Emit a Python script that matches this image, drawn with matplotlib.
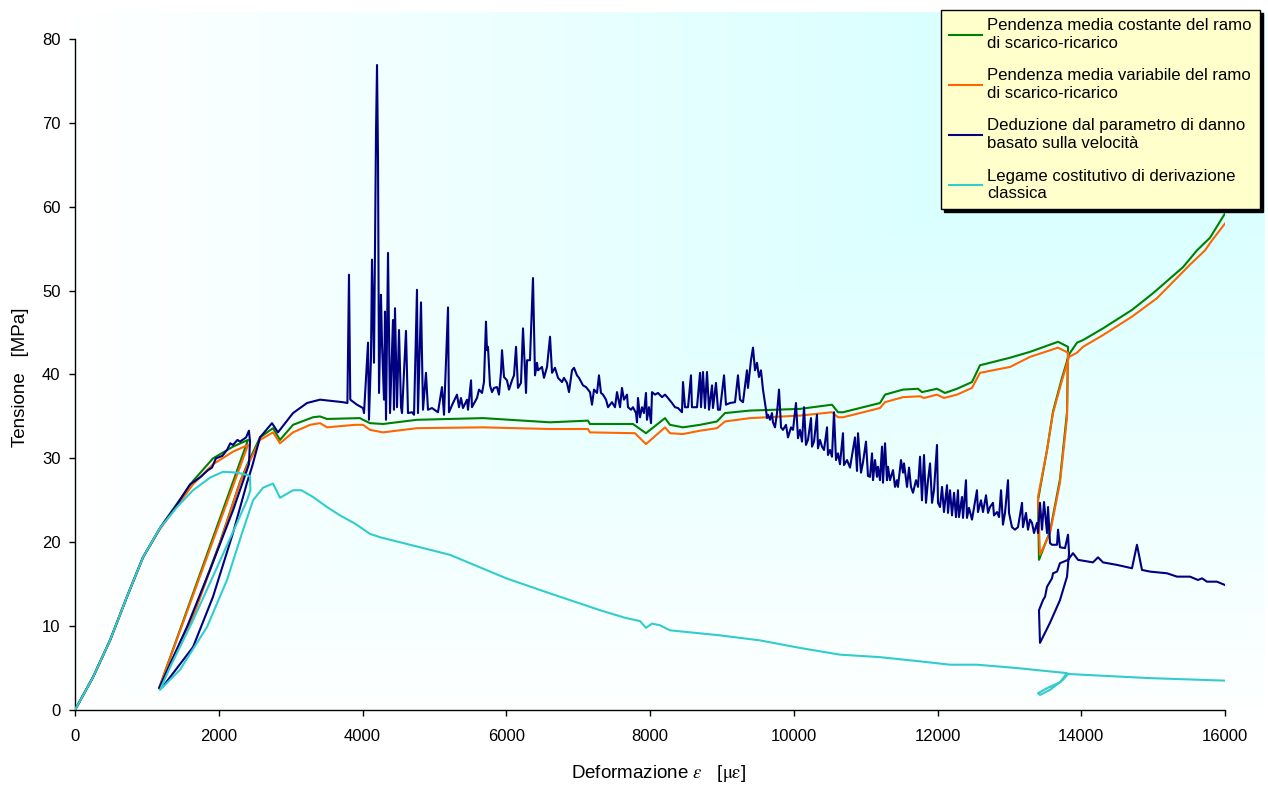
import numpy as np
import matplotlib.pyplot as plt

# Tensione-deformazione: quattro legami costitutivi a confronto

# curva verde - pendenza media costante del ramo di scarico-ricarico
green_x = [0, 250, 487, 723, 946, 1183, 1419, 1642, 1920, 2198, 2407,
           1170, 1642, 2017, 2296, 2393, 2574, 2755, 2852, 3033, 3311, 3409, 3506,
           3965, 4007, 4104, 4285, 4758, 5677, 6609, 7137, 7165, 7763, 7944, 8209,
           8278, 8459, 8696, 8932, 9043, 9391, 10087, 10532, 10616, 10685, 11200,
           11270, 11520, 11729, 11784, 11993, 12104, 12271, 12480, 12591, 13009,
           13287, 13677, 13816, 13802, 13704, 13565, 13412, 13398, 13524, 13607,
           13732, 13830, 13941, 14024, 14303, 14706, 15000, 15416, 15610, 15791, 16000]
green_y = [0, 3.9, 8.3, 13.5, 18.2, 21.7, 24.6, 27.3, 30.0, 31.4, 32.2,
           2.6, 11.3, 20.0, 27.2, 29.2, 32.5, 33.6, 32.2, 34.0, 34.9, 35.0, 34.7,
           34.8, 34.6, 34.2, 34.1, 34.6, 34.8, 34.3, 34.5, 34.1, 34.1, 33.0, 34.8,
           34.0, 33.7, 34.0, 34.4, 35.4, 35.7, 35.9, 36.4, 35.5, 35.5, 36.6,
           37.6, 38.2, 38.3, 37.9, 38.3, 37.8, 38.3, 39.1, 41.1, 42.0,
           42.7, 43.9, 43.3, 35.5, 27.5, 21.3, 17.9, 25.0, 31.0, 35.6,
           39.6, 42.4, 43.8, 44.1, 45.5, 47.7, 49.7, 52.8, 54.8, 56.3, 59.2]

# curva arancio - pendenza media variabile
orange_x = [0, 250, 487, 723, 946, 1183, 1419, 1642, 1920, 2198, 2407,
            1170, 1642, 2017, 2296, 2393, 2574, 2755, 2852, 3033, 3270, 3409, 3506,
            3896, 4007, 4104, 4285, 4758, 5677, 6609, 7137, 7165, 7791, 7944, 8209,
            8278, 8459, 8696, 8932, 9043, 9391, 10087, 10532, 10616, 10685, 11200,
            11270, 11520, 11757, 11812, 11993, 12090, 12271, 12480, 12591, 13009,
            13287, 13677, 13816, 13802, 13704, 13565, 13426, 13398, 13524, 13607,
            13732, 13830, 13941, 14024, 14303, 14706, 15054, 15513, 15722, 15820, 16000]
orange_y = [0, 3.9, 8.3, 13.5, 18.2, 21.6, 24.3, 26.9, 29.3, 30.8, 31.6,
            2.6, 11.1, 19.9, 27.1, 29.0, 32.2, 33.1, 31.8, 33.1, 34.0, 34.2, 33.7,
            34.0, 34.0, 33.4, 33.1, 33.6, 33.7, 33.5, 33.5, 33.1, 33.0, 31.7, 33.7,
            33.0, 32.9, 33.3, 33.6, 34.4, 34.8, 35.1, 35.5, 34.9, 34.9, 36.0,
            36.7, 37.3, 37.4, 37.2, 37.6, 37.2, 37.6, 38.4, 40.2, 40.9,
            42.1, 43.2, 42.6, 34.9, 27.1, 21.1, 18.5, 25.4, 31.0, 35.4,
            39.3, 42.1, 42.6, 43.3, 44.7, 46.9, 49.1, 53.1, 54.8, 56.0, 58.0]

# curva blu - parametro di danno basato sulla velocita' (letta a tratti)
blue_start = [(0, 0), (250, 3.9), (487, 8.3), (723, 13.5), (946, 18.2), (1183, 21.7),
              (1419, 24.5), (1600, 26.9), (1750, 27.8), (1850, 28.6), (1906, 28.9),
              (1960, 30.0), (2050, 30.3), (2115, 31.0), (2160, 31.8), (2198, 31.6),
              (2260, 32.2), (2296, 32.0), (2380, 32.5), (2420, 33.3), (2435, 32.0),
              (2420, 29.3), (2198, 23.8), (1878, 16.7), (1558, 9.9), (1170, 2.6),
              (1224, 2.8), (1642, 7.5), (1920, 13.5), (2198, 21.1), (2393, 27.1),
              (2463, 29.0), (2574, 32.5), (2741, 34.2), (2824, 33.1), (3033, 35.4),
              (3228, 36.6), (3409, 37.0), (3729, 36.7), (3790, 36.6)]
blue_peaks = [(3812, 51.9), (3830, 37.0), (3923, 36.4), (4007, 36.0), (4021, 35.4),
              (4077, 43.8), (4090, 34.6), (4118, 42.0), (4132, 53.7), (4160, 41.4),
              (4188, 68.9), (4202, 76.9), (4216, 65.6), (4230, 37.8), (4257, 49.5),
              (4271, 43.8), (4299, 37.0), (4313, 47.5), (4327, 34.6), (4355, 54.5),
              (4383, 35.4), (4424, 46.5), (4438, 35.8), (4452, 47.9), (4480, 36.1),
              (4508, 45.3), (4536, 36.1), (4550, 35.4), (4605, 45.2), (4633, 35.4),
              (4689, 35.5), (4717, 35.2), (4758, 50.1), (4772, 35.4), (4814, 48.6),
              (4842, 35.8), (4883, 40.2), (4911, 35.8), (4967, 36.0), (5050, 35.5),
              (5106, 38.5), (5134, 35.2), (5190, 48.0), (5203, 35.5), (5259, 36.6),
              (5315, 37.6), (5343, 36.1), (5370, 37.2), (5398, 36.0), (5454, 37.0),
              (5468, 35.8), (5510, 39.3), (5523, 36.1), (5593, 37.2), (5621, 38.2),
              (5663, 37.8), (5690, 39.1), (5718, 46.3), (5732, 42.9), (5746, 43.3),
              (5774, 38.7), (5802, 37.9), (5830, 38.4), (5871, 38.5), (5899, 37.6),
              (5927, 40.3), (5941, 42.9), (5969, 39.7), (6010, 39.3), (6038, 38.2),
              (6080, 39.3), (6108, 39.9), (6136, 43.3), (6163, 38.4), (6205, 39.0),
              (6233, 45.5), (6275, 37.8), (6289, 41.7), (6330, 41.7), (6372, 51.5),
              (6400, 39.9), (6428, 41.4), (6442, 40.5), (6497, 40.9), (6525, 39.6),
              (6567, 40.9), (6609, 44.5), (6637, 40.2), (6678, 40.8), (6720, 39.6),
              (6776, 39.1), (6803, 39.6), (6845, 39.0), (6873, 37.9), (6915, 40.5),
              (6943, 40.8), (6984, 39.9), (7012, 39.6), (7068, 38.7), (7110, 38.5)]
blue_mid = [(7165, 37.9), (7193, 36.4), (7221, 38.2), (7263, 37.8), (7290, 39.9),
            (7318, 37.8), (7346, 37.6), (7388, 37.0), (7416, 36.1), (7471, 36.7),
            (7513, 36.1), (7541, 37.9), (7583, 36.1), (7610, 38.4), (7638, 37.0),
            (7680, 37.6), (7694, 36.1), (7736, 35.8), (7763, 36.1), (7805, 35.4),
            (7819, 34.3), (7833, 37.2), (7861, 34.9), (7889, 36.1), (7916, 35.4),
            (7944, 37.8), (7958, 34.6), (7986, 36.1), (8014, 34.2), (8028, 37.9),
            (8070, 37.6), (8111, 37.8), (8167, 37.3), (8209, 37.6), (8250, 37.2),
            (8306, 36.6), (8348, 36.1), (8390, 36.0), (8445, 35.5), (8459, 39.1),
            (8487, 36.1), (8529, 36.1), (8570, 39.9), (8584, 36.1), (8654, 36.1),
            (8696, 40.2), (8710, 36.1), (8737, 40.3), (8765, 36.0), (8793, 40.3),
            (8821, 35.8), (8863, 38.7), (8876, 36.0), (8918, 39.0), (8946, 35.8),
            (8974, 35.8), (9030, 39.9), (9057, 36.4), (9113, 36.6), (9183, 36.7),
            (9224, 39.9), (9252, 37.0), (9294, 36.7), (9349, 40.5), (9363, 38.4),
            (9405, 41.7), (9433, 43.2), (9461, 40.5), (9489, 41.4), (9516, 39.7),
            (9544, 40.5), (9572, 38.2), (9614, 35.8), (9628, 34.8)]
blue_fall = [(9642, 35.2), (9670, 34.6), (9697, 35.4), (9711, 34.3), (9739, 33.7),
             (9767, 35.4), (9795, 38.2), (9823, 33.7), (9850, 33.4), (9892, 34.0),
             (9920, 32.5), (9962, 33.7), (9990, 33.4), (10031, 36.6), (10059, 32.4),
             (10087, 33.4), (10115, 32.0), (10143, 36.1), (10170, 31.6), (10198, 32.2),
             (10240, 34.8), (10254, 31.4), (10282, 32.0), (10323, 35.2), (10337, 31.2),
             (10365, 32.2), (10393, 31.4), (10421, 31.0), (10463, 33.7), (10476, 30.4),
             (10504, 31.0), (10532, 30.2), (10560, 35.5), (10588, 29.8), (10616, 30.6),
             (10643, 29.3), (10685, 33.0), (10699, 29.2), (10741, 29.8), (10783, 28.9),
             (10852, 32.5), (10880, 28.5), (10894, 33.0), (10936, 28.3), (10963, 29.5),
             (11005, 32.0), (11033, 27.9), (11061, 27.8), (11089, 30.6), (11103, 27.4),
             (11130, 29.8), (11158, 27.8), (11172, 29.0), (11200, 27.4), (11228, 31.4),
             (11242, 27.1), (11270, 31.8), (11297, 27.4), (11311, 29.0), (11339, 27.4),
             (11381, 28.6), (11409, 26.6), (11436, 27.4), (11450, 26.6), (11492, 29.8),
             (11520, 28.3), (11534, 29.4), (11576, 26.6), (11604, 28.9), (11631, 26.6),
             (11659, 25.9), (11701, 27.4), (11729, 26.6), (11757, 30.2), (11784, 25.0),
             (11812, 30.4), (11840, 24.7), (11868, 27.4), (11896, 29.4), (11924, 24.7),
             (11951, 26.2), (11993, 31.6), (12007, 24.7), (12035, 24.2), (12063, 26.6),
             (12090, 23.6), (12132, 26.8), (12146, 23.5), (12174, 26.2), (12202, 23.2),
             (12230, 25.9), (12257, 23.0), (12285, 26.2), (12299, 23.0), (12341, 25.4),
             (12355, 22.9), (12396, 27.4), (12410, 22.9), (12438, 24.1), (12480, 22.7),
             (12549, 26.2), (12563, 23.6), (12605, 25.0), (12633, 23.6), (12675, 25.6),
             (12703, 23.5), (12730, 24.2), (12772, 24.7), (12786, 23.2), (12828, 23.6),
             (12856, 23.0), (12884, 26.2), (12911, 22.1), (12939, 23.5), (12981, 27.4),
             (12995, 23.5), (13036, 21.8), (13078, 21.5), (13120, 21.8), (13176, 24.7),
             (13189, 21.8), (13231, 23.5), (13259, 21.5), (13287, 22.7), (13315, 22.3),
             (13343, 21.1), (13384, 22.3), (13398, 21.1), (13426, 24.7), (13454, 21.5),
             (13482, 24.8), (13524, 21.1), (13538, 24.2), (13565, 19.9), (13593, 19.7),
             (13663, 19.7), (13677, 21.5), (13704, 19.4), (13774, 19.3), (13816, 20.9),
             (13830, 18.7)]
blue_tail = [(13802, 15.9), (13704, 13.1), (13565, 10.4), (13426, 8.0), (13412, 11.9),
             (13468, 13.1), (13496, 13.5), (13524, 14.7), (13593, 15.7), (13607, 16.3),
             (13663, 16.5), (13704, 17.5), (13816, 17.9), (13885, 18.7), (13955, 17.9),
             (14163, 17.6), (14233, 18.2), (14303, 17.6), (14497, 17.3), (14706, 16.9),
             (14775, 19.7), (14845, 16.7), (14957, 16.5), (15193, 16.3), (15332, 15.9),
             (15513, 15.9), (15624, 15.5), (15680, 15.7), (15749, 15.3), (15888, 15.3),
             (16000, 14.9)]

# curva ciano - legame costitutivo classico
cyan_x = [0, 250, 487, 723, 946, 1183, 1419, 1642, 1878, 2059, 2254, 2407, 2435,
          2440, 2393, 2254, 1976, 1642, 1322, 1183, 1461, 1837, 2115, 2324, 2477,
          2616, 2755, 2852, 3033, 3150, 3311, 3506, 3687, 3900, 4104, 4243, 4522,
          5217, 6000, 6609, 7304, 7650, 7861, 7944, 8028, 8139, 8278, 8974, 9530,
          10087, 10643, 11200, 11757, 12174, 12549, 13106, 13565, 13800, 13704,
          13524, 13398, 13426, 13565, 13746, 13816, 14024, 14957, 16000]
cyan_y = [0, 3.9, 8.3, 13.5, 18.2, 21.7, 24.2, 26.2, 27.7, 28.4, 28.3, 28.0, 27.8,
          26.2, 25.0, 22.3, 17.0, 10.7, 5.1, 2.4, 4.8, 9.9, 15.5, 21.1, 25.0,
          26.5, 27.0, 25.3, 26.2, 26.2, 25.4, 24.2, 23.2, 22.2, 21.0, 20.6, 20.0,
          18.5, 15.7, 13.9, 11.9, 11.0, 10.6, 9.8, 10.3, 10.1, 9.5, 8.9, 8.3,
          7.4, 6.6, 6.3, 5.8, 5.4, 5.4, 5.0, 4.6, 4.4, 3.3,
          2.6, 2.0, 1.8, 2.4, 3.6, 4.3, 4.2, 3.8, 3.5]

labels = ['Pendenza media costante del ramo\ndi scarico-ricarico',
          'Pendenza media variabile del ramo\ndi scarico-ricarico',
          'Deduzione dal parametro di danno\nbasato sulla velocità',
          'Legame costitutivo di derivazione\nclassica']
colors = ['#008000', '#ff6600', '#000080', '#33cccc']
x_ticks = list(range(0, 16001, 2000))
y_ticks = list(range(0, 81, 10))

plt.rcParams['font.family'] = ['Liberation Sans', 'DejaVu Sans']
plt.rcParams['mathtext.fontset'] = 'stix'

W, H = 1268, 786
fig = plt.figure(figsize=(W / 100, H / 100), dpi=100)

# sfondo sfumato dell'area del grafico (bianco -> ciano dall'angolo in alto a destra)
bg = fig.add_axes([72 / W, 1 - 724 / H, 1193 / W, 712 / H])
gu, gv = np.meshgrid(np.linspace(0, 1, 400), np.linspace(0, 1, 400))
t = np.minimum(gu, gv)[..., None]
c0 = np.array([1.0, 1.0, 1.0])
c1 = np.array([204, 255, 255]) / 255
bg.imshow(c0 * (1 - t) + c1 * t, origin='lower', aspect='auto', extent=[0, 1, 0, 1])
bg.axis('off')

ax = fig.add_axes([75 / W, 1 - 710 / H, 1150 / W, 671 / H])
ax.set_facecolor('none')

bx, by = zip(*(blue_start + blue_peaks + blue_mid + blue_fall + blue_tail))
lines = []
lines += ax.plot(green_x, green_y, color=colors[0], lw=1.5, zorder=3)
lines += ax.plot(orange_x, orange_y, color=colors[1], lw=1.5, zorder=3)
lines += ax.plot(bx, by, color=colors[2], lw=1.5, zorder=4)
lines += ax.plot(cyan_x, cyan_y, color=colors[3], lw=1.5, zorder=5)

ax.set_xlim(0, 16000)
ax.set_ylim(0, 80)
ax.set_xticks(x_ticks)
ax.set_yticks(y_ticks)
for s in ['top', 'right']:
    ax.spines[s].set_visible(False)
for s in ['left', 'bottom']:
    ax.spines[s].set_color('black')
    ax.spines[s].set_linewidth(1)
ax.tick_params(axis='both', direction='out', length=4.5, width=1, labelsize=12)
ax.tick_params(axis='x', pad=9)
ax.tick_params(axis='y', pad=6)

fig.text(659 / W, 1 - 773 / H, r'Deformazione $\varepsilon$   [$\mathrm{\mu\varepsilon}$]',
         ha='center', va='center', fontsize=13.5)
fig.text(21 / W, 1 - 377 / H, 'Tensione   [MPa]', rotation=90,
         ha='center', va='center', fontsize=13.5)

leg = ax.legend(lines, labels, loc='upper left', bbox_to_anchor=(941 / W, 1 - 10 / H),
                bbox_transform=fig.transFigure, fontsize=12.1, frameon=True,
                fancybox=False, facecolor='#ffffcc', edgecolor='black', framealpha=1,
                shadow={'color': 'black', 'alpha': 1}, handlelength=1.95,
                handletextpad=0.3, borderpad=0.5, labelspacing=1.05, borderaxespad=0)
leg.get_frame().set_linewidth(1)
leg.set_zorder(10)

fig.savefig('out.png', dpi=100)
